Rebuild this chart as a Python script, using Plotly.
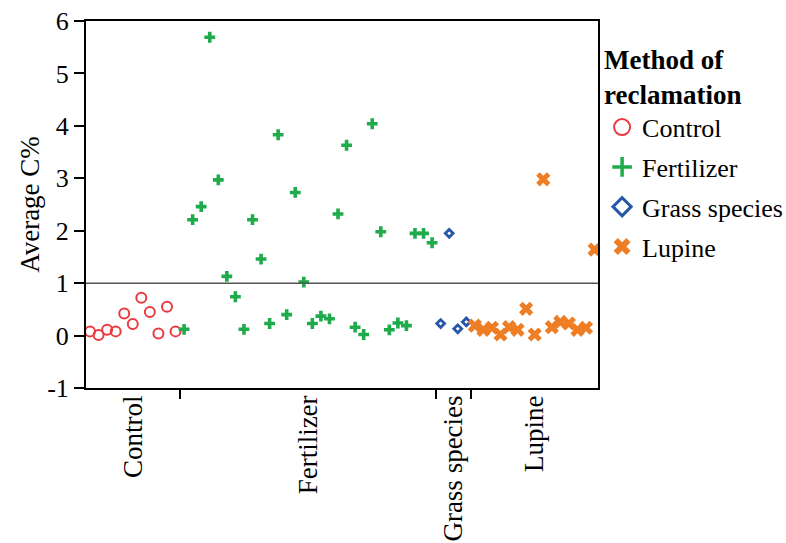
import plotly.graph_objects as go

# ---- data ----
categories = ["Control", "Fertilizer", "Grass species", "Lupine"]
control_c = [0.08, 0.01, 0.11, 0.08, 0.42, 0.22, 0.72, 0.45, 0.04, 0.55, 0.08]
fertilizer_c = [0.12, 2.21, 2.46, 5.69, 2.97, 1.13, 0.74, 0.12, 2.21, 1.46,
                0.23, 3.83, 0.40, 2.73, 1.02, 0.23, 0.37, 0.32, 2.32, 3.63,
                0.16, 0.02, 4.04, 1.98, 0.11, 0.24, 0.19, 1.95, 1.95, 1.77]
grass_c = [0.23, 1.95, 0.13, 0.26]
lupine_c = [0.19, 0.11, 0.15, 0.02, 0.16, 0.11, 0.51, 0.02, 2.98, 0.16,
            0.26, 0.23, 0.11, 0.15, 1.64]
reference_level = 1.0
y_ticks = [-1, 0, 1, 2, 3, 4, 5, 6]
y_tick_text = ["-1", "0", "1", "2", "3", "4", "5", "6"]

series = [control_c, fertilizer_c, grass_c, lupine_c]
colors = ["#ea3a40", "#1fab4b", "#2556a8", "#ee7d24"]
data_marker = [
    dict(symbol="circle-open", size=10, line=dict(width=2)),
    dict(symbol="cross", size=9, line=dict(width=0)),
    dict(symbol="diamond-open", size=6, line=dict(width=2.8)),
    dict(symbol="x", size=12.5, line=dict(width=0)),
]
legend_marker = [
    dict(symbol="circle-open", size=16, line=dict(width=2)),
    dict(symbol="cross-thin-open", size=14, line=dict(width=3.5)),
    dict(symbol="diamond-open", size=14, line=dict(width=3)),
    dict(symbol="x", size=15, line=dict(width=0)),
]

FONT = "Liberation Serif"
fig = go.Figure()

# row index positions (observation order)
start = 0
bounds = []
xs_all = []
for vals in series:
    xs = list(range(start, start + len(vals)))
    xs_all.append(xs)
    start += len(vals)
    bounds.append(start - 0.5)

x_lo, x_hi = -0.47, start - 0.6
edges = [x_lo] + bounds[:-1] + [x_hi]
centers = [(edges[i] + edges[i + 1]) / 2 for i in range(len(categories))]

for name, vals, xs, col, mk, lmk in zip(categories, series, xs_all, colors,
                                        data_marker, legend_marker):
    m = dict(mk)
    m["color"] = col
    m["line"] = dict(mk["line"], color=col)
    fig.add_trace(go.Scatter(x=xs, y=vals, mode="markers", marker=m,
                             name=name, showlegend=False, legendgroup=name))
    lm = dict(lmk)
    lm["color"] = col
    lm["line"] = dict(lmk["line"], color=col)
    fig.add_trace(go.Scatter(x=[None], y=[None], mode="markers", marker=lm,
                             name=name, showlegend=True, legendgroup=name))

# invisible trace for category-label axis
fig.add_trace(go.Scatter(x=[x_lo, x_hi], y=[None, None], xaxis="x2",
                         mode="markers", showlegend=False, hoverinfo="skip"))

fig.add_shape(type="line", xref="paper", yref="y", x0=0, x1=1,
              y0=reference_level, y1=reference_level,
              line=dict(color="#555555", width=1.5))

fig.update_layout(
    width=786, height=543,
    margin=dict(l=86, r=188, t=21, b=155, autoexpand=False),
    paper_bgcolor="white", plot_bgcolor="white",
    font=dict(family=FONT, size=26, color="black"),
    xaxis=dict(range=[x_lo, x_hi], tickvals=bounds[:-1], ticktext=["", "", ""],
               ticks="outside", ticklen=9, tickwidth=1.5, tickcolor="black",
               showline=True, linecolor="black", linewidth=2, mirror=True,
               showgrid=False, zeroline=False),
    xaxis2=dict(range=[x_lo, x_hi], overlaying="x", side="bottom",
                tickvals=centers, ticktext=categories, tickangle=-90,
                ticks="", ticklabelstandoff=1,
                tickfont=dict(family=FONT, size=27, color="black"),
                showline=False, showgrid=False, zeroline=False),
    yaxis=dict(range=[-1, 6], tickvals=y_ticks, ticktext=y_tick_text,
               ticks="outside", ticklen=10, tickwidth=1.5, tickcolor="black",
               tickfont=dict(family=FONT, size=26, color="black"),
               showline=True, linecolor="black", linewidth=2, mirror=True,
               showgrid=False, zeroline=False,
               title=dict(text="Average C%", font=dict(family=FONT, size=27),
                          standoff=0)),
    legend=dict(x=1.008, xanchor="left", y=0.966, yanchor="top",
                title=dict(text="<b>Method of<br>reclamation</b>",
                           font=dict(family=FONT, size=27)),
                font=dict(family=FONT, size=26, color="black"),
                tracegroupgap=3, bgcolor="rgba(0,0,0,0)"),
    showlegend=True,
)

fig.write_html("out.html")
